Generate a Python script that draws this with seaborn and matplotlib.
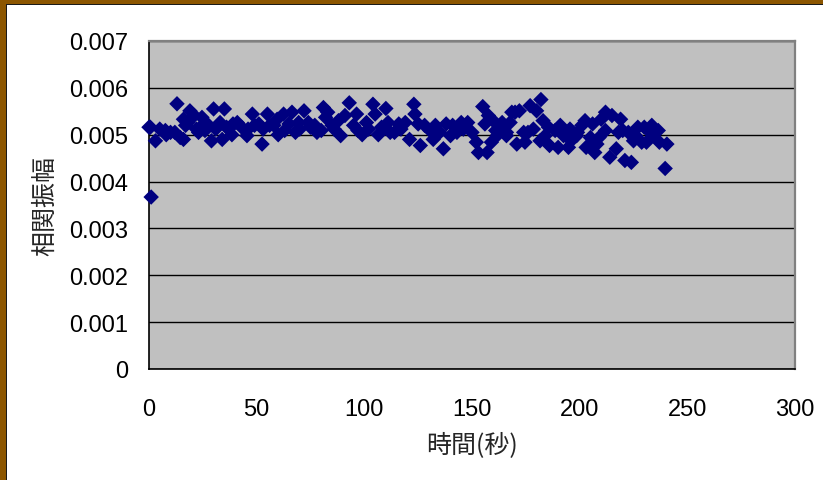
import matplotlib
matplotlib.use("Agg")
import matplotlib.pyplot as plt
from matplotlib.patches import Rectangle
import seaborn as sns
import pandas as pd

# Elapsed time (s) and correlation amplitude of each measurement
time_s = [
    0, 0.6, 1, 3, 5, 7.6, 10, 12, 13, 14.5, 16, 16, 17, 19, 21, 22, 23, 24.6,
    25.4, 27.7, 29, 30, 31, 33, 34, 35, 37, 38.5, 41, 43, 45.5, 48, 49, 51,
    52.5, 55, 56, 59.5, 60, 62.5, 65, 66.4, 68, 69.5, 72, 74, 77, 80, 81, 82,
    83, 85, 89, 91, 93, 95, 96.4, 99, 101, 104, 105, 106.5, 110, 111, 114,
    116, 119, 121, 123, 123.5, 126, 128, 130.5, 132, 133, 136.7, 138, 140,
    143, 145, 148, 150, 152, 153, 155, 156, 157, 157.6, 159, 160.7, 162, 164,
    166, 166, 167.7, 168.5, 170, 170.8, 172, 174, 174.6, 177, 178.5, 180,
    181.6, 182, 184, 185.5, 186, 188.6, 190, 191, 192.5, 194.8, 195.5, 198.6,
    201, 202.5, 203, 205, 206, 207, 208, 210, 212, 212, 214, 215, 217, 219,
    220, 221, 222.6, 224, 225, 227, 228.8, 231, 233.5, 234, 236.5, 237,
    239.7, 240.5,
    # additional readings within the dense band
    8, 18, 26, 36, 39, 46, 53, 58, 63, 70, 75, 78, 86, 88, 97, 102, 108,
    112, 117, 125, 135, 141, 146, 161, 176, 183, 196, 199, 209, 218, 226,
    230, 232,
]
amplitude = [
    0.00516, 0.00516, 0.00367, 0.00487, 0.00512, 0.00509, 0.00505, 0.00505,
    0.00566, 0.00494, 0.00490, 0.00533, 0.00520, 0.00551, 0.00541, 0.00512,
    0.00505, 0.00537, 0.00523, 0.00520, 0.00487, 0.00555, 0.00512, 0.00526,
    0.00490, 0.00555, 0.00512, 0.00500, 0.00526, 0.00516, 0.00498, 0.00544,
    0.00520, 0.00523, 0.00480, 0.00544, 0.00520, 0.00533, 0.00500, 0.00544,
    0.00523, 0.00548, 0.00505, 0.00526, 0.00551, 0.00526, 0.00520, 0.00509,
    0.00558, 0.00537, 0.00548, 0.00520, 0.00498, 0.00541, 0.00568, 0.00520,
    0.00544, 0.00500, 0.00526, 0.00565, 0.00544, 0.00500, 0.00556, 0.00526,
    0.00505, 0.00523, 0.00526, 0.00490, 0.00565, 0.00544, 0.00477, 0.00520,
    0.00509, 0.00490, 0.00520, 0.00470, 0.00523, 0.00498, 0.00505, 0.00526,
    0.00526, 0.00505, 0.00484, 0.00462, 0.00560, 0.00523, 0.00462, 0.00541,
    0.00484, 0.00526, 0.00500, 0.00526, 0.00498, 0.00505, 0.00526, 0.00548,
    0.00548, 0.00480, 0.00551, 0.00505, 0.00484, 0.00562, 0.00512, 0.00551,
    0.00487, 0.00575, 0.00498, 0.00516, 0.00477, 0.00509, 0.00473, 0.00520,
    0.00498, 0.00473, 0.00512, 0.00498, 0.00520, 0.00530, 0.00473, 0.00494,
    0.00523, 0.00462, 0.00480, 0.00533, 0.00548, 0.00509, 0.00452, 0.00541,
    0.00470, 0.00533, 0.00509, 0.00445, 0.00505, 0.00441, 0.00487, 0.00516,
    0.00484, 0.00484, 0.00520, 0.00500, 0.00509, 0.00484, 0.00428, 0.00480,
    0.00500, 0.00526, 0.00509, 0.00516, 0.00523, 0.00512, 0.00512, 0.00520,
    0.00509, 0.00512, 0.00516, 0.00505, 0.00512, 0.00530, 0.00509, 0.00512,
    0.00516, 0.00505, 0.00512, 0.00523, 0.00505, 0.00520, 0.00512, 0.00509,
    0.00505, 0.00530, 0.00487, 0.00505, 0.00494, 0.00505, 0.00498, 0.00516,
    0.00509,
]

x_ticks = [0, 50, 100, 150, 200, 250, 300]
y_ticks = [0, 0.001, 0.002, 0.003, 0.004, 0.005, 0.006, 0.007]
y_tick_labels = ["0", "0.001", "0.002", "0.003", "0.004", "0.005", "0.006", "0.007"]

df = pd.DataFrame({"時間(秒)": time_s, "相関振幅": amplitude})

sns.set_style("white")
plt.rcParams["font.family"] = ["Liberation Sans", "Noto Sans CJK JP", "DejaVu Sans"]

fig = plt.figure(figsize=(8.23, 4.81), dpi=100)
fig.patch.set_facecolor("white")

# Brown frame with a thin dark inner line along the top and left edges
fig.patches.append(Rectangle((0, 1 - 5 / 481), 1, 5 / 481, transform=fig.transFigure,
                             facecolor="#8C5600", edgecolor="none", zorder=0))
fig.patches.append(Rectangle((0, 0), 6 / 823, 1, transform=fig.transFigure,
                             facecolor="#8C5600", edgecolor="none", zorder=0))
fig.patches.append(Rectangle((6 / 823, 0), 1.3 / 823, 1 - 5 / 481, transform=fig.transFigure,
                             facecolor="#1a1a1a", edgecolor="none", zorder=0))
fig.patches.append(Rectangle((6 / 823, 1 - 6.3 / 481), 1, 1.3 / 481, transform=fig.transFigure,
                             facecolor="#1a1a1a", edgecolor="none", zorder=0))

ax = fig.add_axes([149 / 823, 1 - 370 / 481, (795 - 149) / 823, (370 - 42) / 481])
ax.set_facecolor("#C0C0C0")

sns.scatterplot(data=df, x="時間(秒)", y="相関振幅", marker="D", s=62,
                color="#000080", edgecolor="none", linewidth=0, ax=ax,
                zorder=3, clip_on=False)

ax.set_xlim(0, 300)
ax.set_ylim(0, 0.007)
ax.set_xticks(x_ticks)
ax.set_xticklabels([str(t) for t in x_ticks])
ax.set_yticks(y_ticks)
ax.set_yticklabels(y_tick_labels)

ax.grid(axis="y", color="#000000", linewidth=1.0)
ax.grid(axis="x", visible=False)
ax.set_axisbelow(True)

for side in ("top", "right"):
    ax.spines[side].set_color("#808080")
    ax.spines[side].set_linewidth(1.6)
for side in ("left", "bottom"):
    ax.spines[side].set_color("#000000")
    ax.spines[side].set_linewidth(1.2)

ax.tick_params(axis="both", direction="in", length=6, width=1, color="#333333",
               labelsize=17, labelcolor="#000000")
ax.tick_params(axis="y", pad=15)
ax.tick_params(axis="x", pad=21)

ax.set_xlabel("時間(秒)", fontsize=18, family=["Noto Sans CJK JP", "DejaVu Sans"], labelpad=8)
ax.set_ylabel("相関振幅", fontsize=18, family=["Noto Sans CJK JP", "DejaVu Sans"], labelpad=8)

fig.savefig("out.png", dpi=100)
